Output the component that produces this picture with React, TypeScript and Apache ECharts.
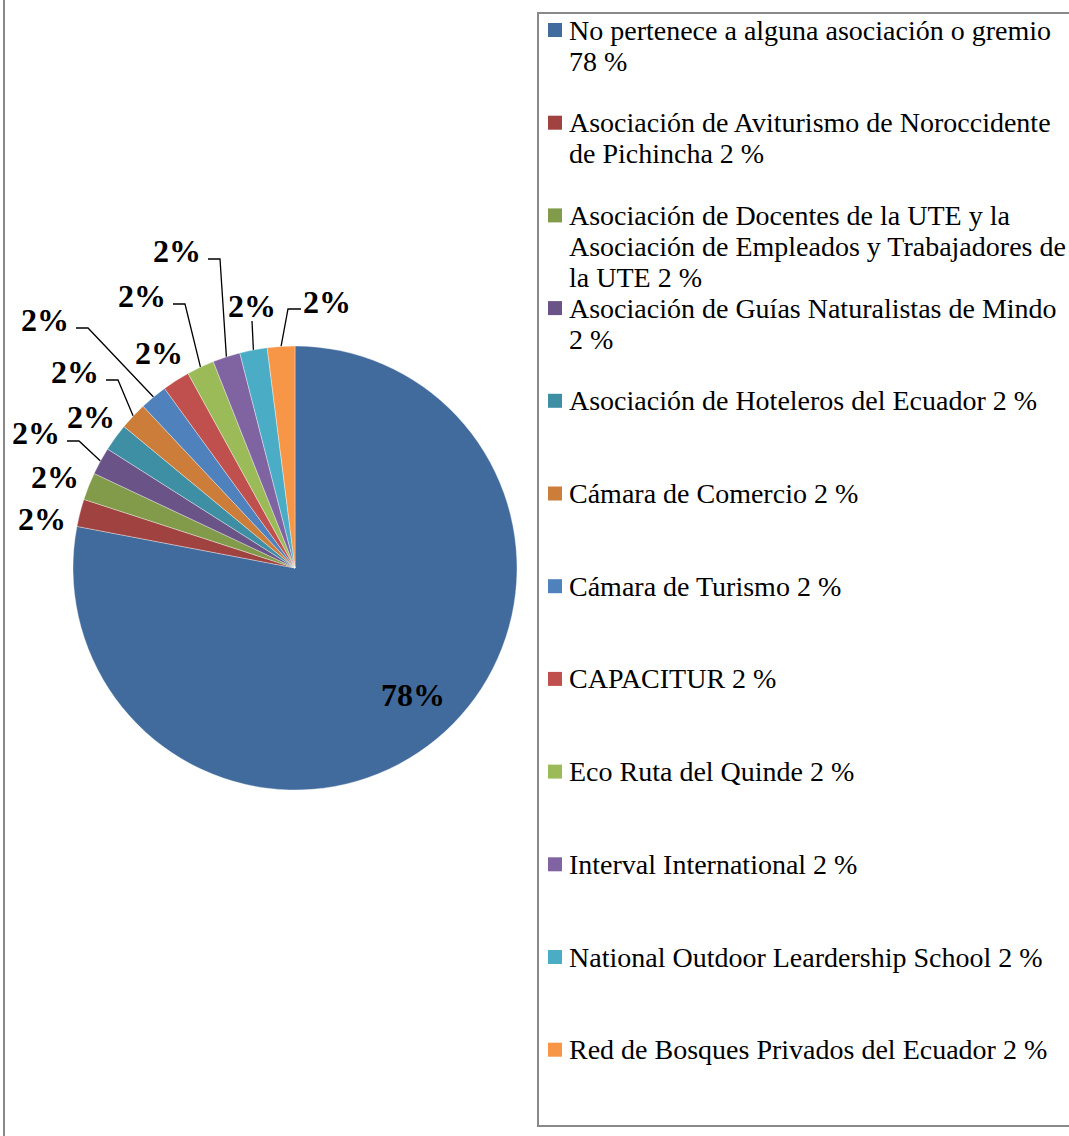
import React, { useEffect, useRef } from "react";
import * as echarts from "echarts";

// ---- data ----
const categories: string[] = [
  "No pertenece a alguna asociación o gremio",
  "Asociación de Aviturismo de Noroccidente de Pichincha",
  "Asociación de Docentes de la UTE y la Asociación de Empleados y Trabajadores de la UTE",
  "Asociación de Guías Naturalistas de Mindo",
  "Asociación de Hoteleros del Ecuador",
  "Cámara de Comercio",
  "Cámara de Turismo",
  "CAPACITUR",
  "Eco Ruta del Quinde",
  "Interval International",
  "National Outdoor Leardership School",
  "Red de Bosques Privados del Ecuador",
];
const values: number[] = [78, 2, 2, 2, 2, 2, 2, 2, 2, 2, 2, 2];

// ---- styles / layout ----
const colors: string[] = [
  "#426B9D", "#9F4240", "#819B4A", "#6A5386", "#3E8FA4", "#CD7D3A",
  "#4F81BD", "#C0504D", "#9BBB59", "#8064A2", "#4BACC6", "#F79646",
];
const CX = 295;
const CY = 568;
const R = 222;
const SERIF = "Liberation Serif";
const LEGEND_FONT = 28;
const LEGEND_WRAP = 504;
// label centre offsets from pie centre and leader-line style
const LABEL_LAYOUT: { dx: number; dy: number; line: "none" | "right" | "down" | "left" }[] = [
  { dx: 118, dy: 127, line: "none" },
  { dx: -253, dy: -49, line: "none" },
  { dx: -240, dy: -91, line: "none" },
  { dx: -259, dy: -135, line: "right" },
  { dx: -204, dy: -151, line: "none" },
  { dx: -220, dy: -196, line: "right" },
  { dx: -250, dy: -248, line: "right" },
  { dx: -136, dy: -215, line: "none" },
  { dx: -153, dy: -272, line: "right" },
  { dx: -118, dy: -317, line: "right" },
  { dx: -43, dy: -262, line: "down" },
  { dx: 32, dy: -266, line: "left" },
];
const LEGEND_X = 548;
const LEGEND_Y0 = 30;
const LEGEND_STEP = 92.7;

function wrapText(text: string, maxW: number, font: string): string {
  const ctx = document.createElement("canvas").getContext("2d");
  if (!ctx) return text;
  ctx.font = font;
  const words = text.split(" ");
  const lines: string[] = [];
  let cur = "";
  words.forEach((w) => {
    const test = cur ? cur + " " + w : w;
    if (cur && ctx.measureText(test).width > maxW) {
      lines.push(cur);
      cur = w;
    } else {
      cur = test;
    }
  });
  if (cur) lines.push(cur);
  return lines.join("\n");
}

export default function App() {
  const ref = useRef<HTMLDivElement>(null);
  useEffect(() => {
    document.body.style.margin = "0";
    if (!ref.current) return;
    const chart = echarts.init(ref.current, null, { renderer: "svg" });
    const total = values.reduce((a, b) => a + b, 0);
    const midAngles: number[] = [];
    let cum = 0;
    values.forEach((v) => {
      const a = (90 - (360 * (cum + v / 2)) / total) * (Math.PI / 180);
      midAngles.push(a);
      cum += v;
    });

    const font = `${LEGEND_FONT}px ${SERIF}`;
    const legendEls: any[] = [];
    categories.forEach((name, i) => {
      const y = LEGEND_Y0 + i * LEGEND_STEP;
      legendEls.push({
        type: "rect",
        shape: { x: LEGEND_X, y: y - 7, width: 14, height: 14 },
        style: { fill: colors[i] },
      });
      legendEls.push({
        type: "text",
        x: LEGEND_X + 21,
        y: y - 15.5,
        style: {
          text: wrapText(`${name} ${values[i]} %`, LEGEND_WRAP, font),
          fontFamily: SERIF,
          fontSize: LEGEND_FONT,
          fill: "#000",
          lineHeight: 31,
          verticalAlign: "top",
          align: "left",
        },
      });
    });

    chart.setOption({
      animation: false,
      backgroundColor: "#fff",
      color: colors,
      graphic: [
        {
          type: "line",
          shape: { x1: 4, y1: 0, x2: 4, y2: 1136 },
          style: { stroke: "#898989", lineWidth: 2 },
        },
        {
          type: "rect",
          shape: { x: 538, y: 13, width: 600, height: 1113 },
          style: { fill: "none", stroke: "#898989", lineWidth: 2 },
        },
        ...legendEls,
      ],
      series: [
        {
          type: "pie",
          center: [CX, CY],
          radius: R,
          startAngle: 90,
          clockwise: true,
          avoidLabelOverlap: false,
          itemStyle: { borderColor: "rgba(255,255,255,0.6)", borderWidth: 0.6 },
          label: {
            show: true,
            position: "outside",
            formatter: "{c}%",
            fontFamily: SERIF,
            fontWeight: "bold",
            fontSize: 32,
            color: "#000",
          },
          labelLine: {
            show: true,
            lineStyle: { color: "#000", width: 1.3 },
            length: 10,
            length2: 10,
          },
          labelLayout: (p: any) => {
            const spec = LABEL_LAYOUT[p.dataIndex];
            const x = CX + spec.dx;
            const y = CY + spec.dy;
            const w = p.labelRect.width;
            const h = p.labelRect.height;
            const res: any = { x, y, align: "center", verticalAlign: "middle" };
            const a = midAngles[p.dataIndex];
            const end = [CX + R * Math.cos(a), CY - R * Math.sin(a)];
            let start: number[] = [x, y];
            let elbow: number[] = [x, y];
            if (spec.line === "right") {
              start = [x + w / 2 + 7, y + 8];
              elbow = [start[0] + 12, start[1]];
            } else if (spec.line === "left") {
              start = [x - w / 2 - 2, y + 7];
              elbow = [start[0] - 13, start[1]];
            } else if (spec.line === "down") {
              start = [x, y + h / 2 - 1];
              elbow = [x, y + h / 2 - 1];
            }
            if (spec.line !== "none") {
              res.labelLinePoints = [end, elbow, start];
            }
            return res;
          },
          data: categories.map((name, i) => ({
            name,
            value: values[i],
            labelLine: { show: LABEL_LAYOUT[i].line !== "none" },
          })),
        },
      ],
    });
    return () => chart.dispose();
  }, []);
  return <div ref={ref} style={{ width: 1069, height: 1136 }} />;
}
